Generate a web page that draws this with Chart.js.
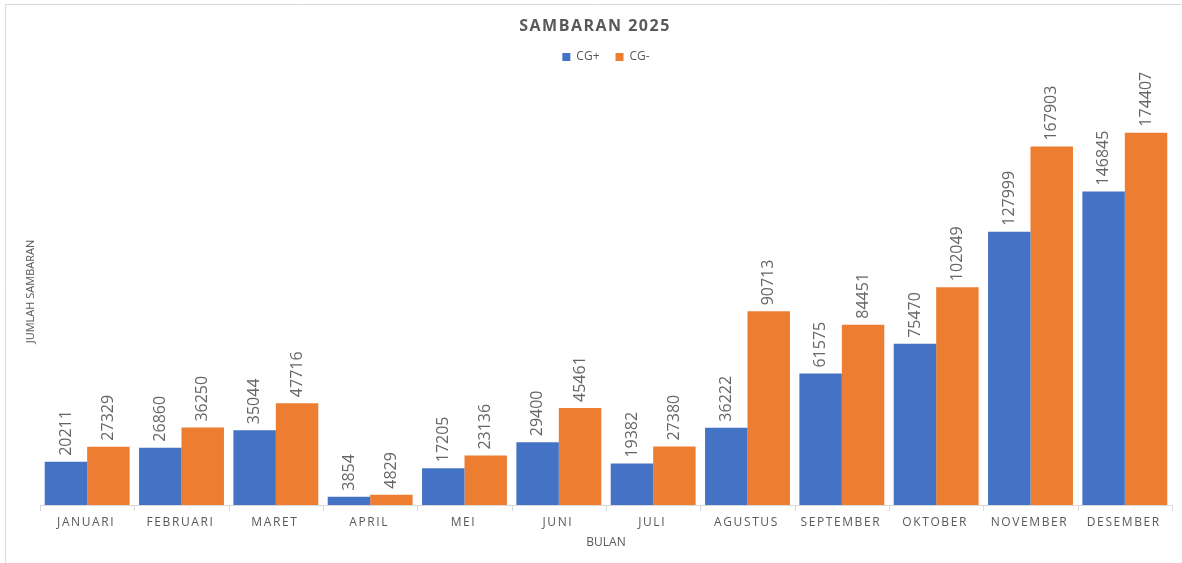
<!DOCTYPE html>
<html>
<head>
<meta charset="utf-8">
<script src="https://cdn.jsdelivr.net/npm/chart.js@4/dist/chart.umd.min.js"></script>
<style>
  html, body { margin: 0; padding: 0; background: #fff; }
  #wrap { width: 1182px; height: 563px; }
</style>
</head>
<body>
<div id="wrap"><canvas id="barChart" width="1182" height="563"></canvas></div>
<script>
// data
var months = ["JANUARI", "FEBRUARI", "MARET", "APRIL", "MEI", "JUNI", "JULI", "AGUSTUS", "SEPTEMBER", "OKTOBER", "NOVEMBER", "DESEMBER"];
var cgPlus = [20211, 26860, 35044, 3854, 17205, 29400, 19382, 36222, 61575, 75470, 127999, 146845];
var cgMinus = [27329, 36250, 47716, 4829, 23136, 45461, 27380, 90713, 84451, 102049, 167903, 174407];
var seriesNames = ["CG+", "CG-"];

var textGray = '#595959';
var lineGray = '#d9d9d9';

// a bit more room under the legend
var legendGap = {
    id: 'legendGap',
    beforeInit: function (chart) {
        var fit = chart.legend.fit;
        chart.legend.fit = function () {
            fit.bind(chart.legend)();
            this.height += 5;
        };
    }
};

// draws frame, axis line, category labels, titles and value labels
var excelLook = {
    id: 'excelLook',
    beforeDraw: function (chart) {
        var ctx = chart.ctx;
        ctx.save();
        ctx.strokeStyle = lineGray;
        ctx.lineWidth = 1;
        ctx.beginPath();
        ctx.moveTo(5.5, 563);
        ctx.lineTo(5.5, 4.5);
        ctx.lineTo(1182, 4.5);
        ctx.stroke();
        ctx.restore();
    },
    afterDraw: function (chart) {
        var ctx = chart.ctx;
        var area = chart.chartArea;
        var x = chart.scales.x;
        ctx.save();

        // axis line + tick marks between categories
        ctx.strokeStyle = lineGray;
        ctx.lineWidth = 1;
        ctx.beginPath();
        ctx.moveTo(area.left, area.bottom + 0.5);
        ctx.lineTo(area.right, area.bottom + 0.5);
        var step = (area.right - area.left) / months.length;
        for (var i = 0; i <= months.length; i++) {
            var tx = Math.round(area.left + i * step) + 0.5;
            ctx.moveTo(tx, area.bottom);
            ctx.lineTo(tx, area.bottom + 6);
        }
        ctx.stroke();

        // category labels
        ctx.fillStyle = textGray;
        ctx.font = '12px "Open Sans"';
        ctx.letterSpacing = '1.6px';
        ctx.textAlign = 'center';
        ctx.textBaseline = 'middle';
        months.forEach(function (m, i) {
            ctx.fillText(m, x.getPixelForValue(i) - 1, area.bottom + 18);
        });

        // axis titles
        ctx.letterSpacing = '0px';
        ctx.fillText('BULAN', (area.left + area.right) / 2, area.bottom + 38);
        ctx.save();
        ctx.translate(31, (area.top + area.bottom) / 2);
        ctx.rotate(-Math.PI / 2);
        ctx.font = '11px "Open Sans"';
        ctx.fillText('JUMLAH SAMBARAN', 0, 0);
        ctx.restore();

        // chart title
        ctx.font = 'bold 16px "Open Sans"';
        ctx.letterSpacing = '1.5px';
        ctx.fillText('SAMBARAN 2025', 595, 26);
        ctx.letterSpacing = '0px';

        // value labels, rotated
        ctx.fillStyle = '#666666';
        ctx.font = '16px "Open Sans"';
        ctx.textAlign = 'left';
        chart.data.datasets.forEach(function (ds, di) {
            var meta = chart.getDatasetMeta(di);
            meta.data.forEach(function (bar, j) {
                ctx.save();
                ctx.translate(bar.x, bar.y - 6);
                ctx.rotate(-Math.PI / 2);
                ctx.fillText(String(ds.data[j]), 0, 0);
                ctx.restore();
            });
        });
        ctx.restore();
    }
};

var barData = {
    labels: months,
    datasets: [
        { label: seriesNames[0], backgroundColor: '#4472c4', data: cgPlus },
        { label: seriesNames[1], backgroundColor: '#ed7d31', data: cgMinus }
    ]
};

var barOptions = {
    responsive: false,
    animation: false,
    layout: { padding: { top: 35, left: 40, right: 10, bottom: 58 } },
    datasets: { bar: { categoryPercentage: 0.9, barPercentage: 1 } },
    scales: {
        x: { display: false },
        y: { display: false, min: 0, max: 200000 }
    },
    plugins: {
        title: { display: false },
        tooltip: { enabled: false },
        legend: {
            position: 'top',
            labels: {
                boxWidth: 8,
                boxHeight: 8,
                color: textGray,
                font: { family: 'Open Sans', size: 12 },
                padding: 16
            }
        }
    }
};

var ctx2 = document.getElementById("barChart").getContext("2d");
new Chart(ctx2, { type: 'bar', data: barData, options: barOptions, plugins: [legendGap, excelLook] });
</script>
</body>
</html>
